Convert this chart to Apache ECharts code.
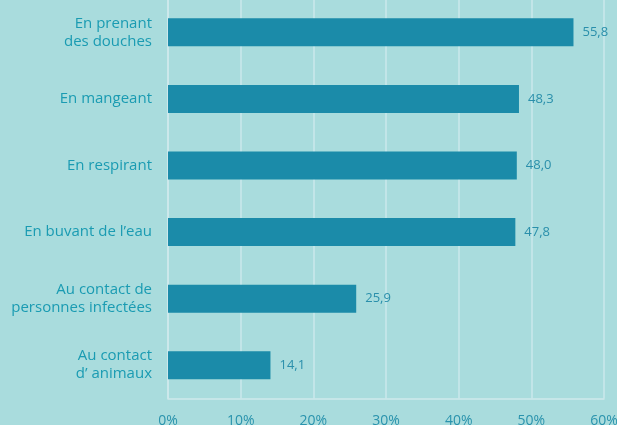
<!DOCTYPE html>
<html>
<head>
<meta charset="utf-8">
<script src="https://cdn.jsdelivr.net/npm/echarts@6/dist/echarts.min.js"></script>
<style>
  html, body { margin: 0; padding: 0; background: #a9dcdd; }
  #chart { width: 617px; height: 425px; }
</style>
</head>
<body>
<div id="chart"></div>
<script>
// Modes of transmission, share of respondents (%)
const categories = [
  "En prenant\ndes douches",
  "En mangeant",
  "En respirant",
  "En buvant de l\u2019eau",
  "Au contact de\npersonnes infect\u00e9es",
  "Au contact\nd\u2019 animaux"
];
const values = [55.8, 48.3, 48.0, 47.8, 25.9, 14.1];
const xTicks = [0, 10, 20, 30, 40, 50, 60];

const chart = echarts.init(document.getElementById('chart'));
const fontFamily = '"Open Sans", "Noto Sans", sans-serif';

chart.setOption({
  backgroundColor: '#a9dcdd',
  animation: false,
  grid: {
    left: 168, right: 13, top: -1, bottom: 26.5,
    containLabel: false,
    outerBoundsMode: 'none'
  },
  xAxis: {
    type: 'value',
    min: xTicks[0],
    max: xTicks[xTicks.length - 1],
    interval: 10,
    axisLine: { show: true, lineStyle: { color: '#cfe9ec', width: 1.5 } },
    axisTick: { show: false },
    splitLine: { show: true, lineStyle: { color: '#cbe8eb', width: 1.5 } },
    axisLabel: {
      margin: 16,
      color: '#2a93ad',
      fontSize: 14,
      fontFamily: fontFamily,
      formatter: v => v + '%'
    }
  },
  yAxis: {
    type: 'category',
    inverse: true,
    data: categories,
    axisLine: { show: true, lineStyle: { color: '#cfe9ec', width: 1.5 } },
    axisTick: { show: false },
    axisLabel: {
      margin: 16,
      color: '#1a9bb2',
      fontSize: 15,
      lineHeight: 18,
      fontFamily: fontFamily,
      align: 'right'
    }
  },
  series: [{
    type: 'bar',
    data: values,
    barWidth: 28,
    itemStyle: { color: '#1b8ba9' },
    label: {
      show: true,
      position: 'right',
      distance: 9,
      color: '#2a8fab',
      fontSize: 13,
      fontFamily: fontFamily,
      formatter: p => p.value.toFixed(1).replace('.', ',')
    }
  }]
});
</script>
</body>
</html>
